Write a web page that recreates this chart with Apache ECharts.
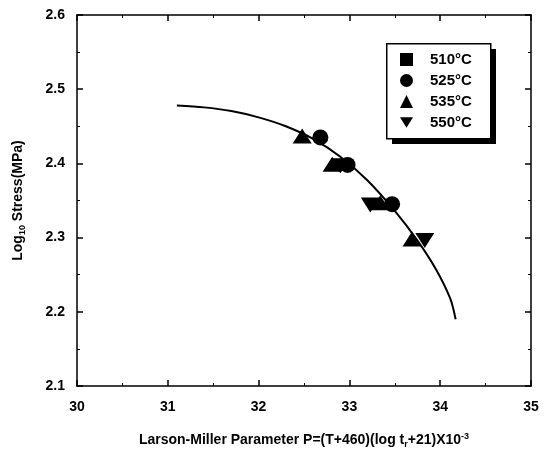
<!DOCTYPE html>
<html><head><meta charset="utf-8">
<script src="https://cdn.jsdelivr.net/npm/echarts@6/dist/echarts.min.js"></script>
<style>html,body{margin:0;padding:0;background:#fff}#c{width:544px;height:458px}</style>
</head><body><div id="c"></div>
<script>
const xTicks = [30, 31, 32, 33, 34, 35];
const yTicks = [2.1, 2.2, 2.3, 2.4, 2.5, 2.6];
const legendNames = ['510°C', '525°C', '535°C', '550°C'];
const p510 = [];
const s510 = [];
const p525 = [32.68, 32.98, 33.47];
const s525 = [2.435, 2.398, 2.345];
const p535 = [32.48, 32.81, 33.34, 33.69];
const s535 = [2.437, 2.399, 2.347, 2.298];
const p550 = [32.90, 33.23, 33.83];
const s550 = [2.397, 2.344, 2.296];
const curveP = [31.1, 31.4, 31.7, 32.0, 32.3, 32.6, 32.9, 33.2, 33.5, 33.75, 33.95, 34.11, 34.17];
const curveS = [2.478, 2.4755, 2.4705, 2.462, 2.450, 2.433, 2.409, 2.377, 2.336, 2.296, 2.258, 2.218, 2.190];

const zip = (a, b) => a.map((v, i) => [v, b[i]]);
const font = 'Arial, "Liberation Sans", sans-serif';
const chart = echarts.init(document.getElementById('c'));
const axLine = {show: true, lineStyle: {color: '#000', width: 1.5}};
const tickStyle = {show: true, inside: true, length: 6, lineStyle: {color: '#000', width: 1.5}};
const minor = {show: true, splitNumber: 2, length: 3, lineStyle: {color: '#000', width: 1}};
const lbl = {color: '#000', fontFamily: font, fontWeight: 'bold', fontSize: 14};
const downTri = 'path://M0,0 L10,0 L5,8 Z';
const mk = {color: '#000', opacity: 1};
chart.setOption({
  animation: false,
  backgroundColor: '#fff',
  grid: {left: 77, right: 13, top: 15, bottom: 72, containLabel: false},
  graphic: [
    {type: 'rect', left: 392, top: 49, shape: {width: 104, height: 95}, style: {fill: '#000'}, z: 10},
    {type: 'rect', left: 386, top: 43, shape: {width: 104, height: 95}, style: {fill: '#fff', stroke: '#000', lineWidth: 1.5}, z: 11}
  ],
  legend: {
    orient: 'vertical', left: 388, top: 44, width: 100, z: 20,
    padding: [8, 10, 8, 12], itemGap: 6, itemWidth: 13, itemHeight: 13,
    textStyle: {color: '#000', fontFamily: font, fontWeight: 'bold', fontSize: 15, padding: [0, 0, 0, 12]},
    data: [
      {name: legendNames[0], icon: 'rect'},
      {name: legendNames[1], icon: 'circle'},
      {name: legendNames[2], icon: 'triangle'},
      {name: legendNames[3], icon: downTri}
    ]
  },
  xAxis: [{
    type: 'value', min: 30, max: 35, interval: 1,
    axisLine: axLine, axisTick: tickStyle, minorTick: minor, splitLine: {show: false},
    axisLabel: Object.assign({margin: 14, formatter: v => xTicks.includes(v) ? String(v) : ''}, lbl),
    name: '{b|Larson-Miller Parameter P=(T+460)(log t}{sub|r}{b|+21)X10}{sup|-3}',
    nameLocation: 'middle', nameGap: 46,
    nameTextStyle: {rich: {
      b: {color: '#000', fontFamily: font, fontWeight: 'bold', fontSize: 14},
      sub: {color: '#000', fontFamily: font, fontWeight: 'bold', fontSize: 9, verticalAlign: 'bottom', padding: [8, 0, 0, 0]},
      sup: {color: '#000', fontFamily: font, fontWeight: 'bold', fontSize: 9, verticalAlign: 'top', padding: [0, 0, 8, 0]}
    }}
  }, {
    type: 'value', position: 'top', min: 30, max: 35, interval: 1,
    axisLine: axLine, axisTick: tickStyle, minorTick: minor, splitLine: {show: false}, axisLabel: {show: false}
  }],
  yAxis: [{
    type: 'value', min: 2.1, max: 2.6, interval: 0.1,
    axisLine: axLine, axisTick: tickStyle, minorTick: minor, splitLine: {show: false},
    axisLabel: Object.assign({margin: 12, formatter: v => v.toFixed(1)}, lbl),
    name: '{b|Log}{sub|10}{b| Stress(MPa)}',
    nameLocation: 'middle', nameGap: 50, nameRotate: 90,
    nameTextStyle: {rich: {
      b: {color: '#000', fontFamily: font, fontWeight: 'bold', fontSize: 14},
      sub: {color: '#000', fontFamily: font, fontWeight: 'bold', fontSize: 9, verticalAlign: 'bottom', padding: [8, 0, 0, 0]}
    }}
  }, {
    type: 'value', position: 'right', min: 2.1, max: 2.6, interval: 0.1,
    axisLine: axLine, axisTick: tickStyle, minorTick: minor, splitLine: {show: false}, axisLabel: {show: false}
  }],
  series: [
    {type: 'line', name: 'fit', data: zip(curveP, curveS), smooth: 0.3, showSymbol: false,
     lineStyle: {color: '#000', width: 2}, z: 1},
    {type: 'scatter', name: legendNames[0], symbol: 'rect', symbolSize: 14, itemStyle: mk, data: zip(p510, s510), z: 3},
    {type: 'scatter', name: legendNames[1], symbol: 'circle', symbolSize: 16, itemStyle: mk, data: zip(p525, s525), z: 3},
    {type: 'scatter', name: legendNames[2], symbol: 'triangle', symbolSize: [19, 15], itemStyle: mk, data: zip(p535, s535), z: 3},
    {type: 'scatter', name: legendNames[3], symbol: downTri, symbolSize: [19, 15], itemStyle: mk, data: zip(p550, s550), z: 3}
  ]
});
</script></body></html>
